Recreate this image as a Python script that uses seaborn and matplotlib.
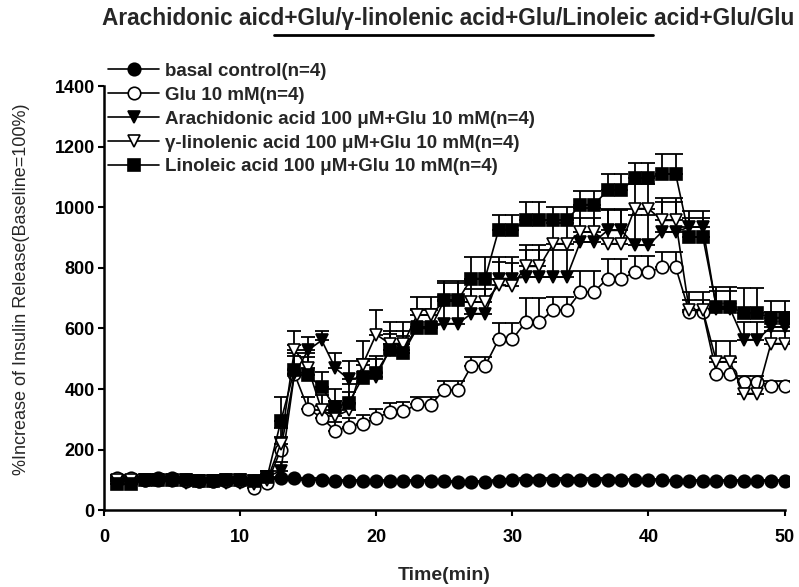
import numpy as np
import pandas as pd
import matplotlib
matplotlib.use("Agg")
import matplotlib.pyplot as plt
import seaborn as sns

sns.set_theme(style="ticks")
plt.rcParams['font.family'] = ['Liberation Sans', 'DejaVu Sans']

minutes = list(range(1, 51))

basal = [95, 95, 100, 105, 105, 100, 95, 95, 100, 100, 95, 100,
         105, 105, 100, 100, 95, 95, 95, 95, 95, 95, 95, 95, 95, 92, 92, 92,
         95, 98, 100, 100, 100, 100, 100, 100, 100, 98, 98, 98, 98, 96, 96,
         96, 96, 96, 96, 96, 96, 96]
glu = [105, 105, 100, 100, 100, 95, 95, 95, 95, 95, 72, 90,
       200, 450, 335, 305, 262, 275, 285, 304, 324, 326, 349, 348,
       396, 396, 476, 476, 564, 564, 622, 622, 660, 660, 721, 721,
       765, 765, 785, 785, 803, 803, 655, 655, 451, 451, 424, 424, 411, 411]
aa = [95, 95, 100, 100, 100, 100, 95, 95, 100, 100, 95, 110,
      130, 450, 528, 561, 469, 432, 440, 440, 530, 530, 605, 605,
      616, 616, 649, 649, 765, 765, 770, 770, 770, 770, 886, 886,
      924, 924, 875, 875, 919, 919, 935, 935, 665, 665, 563, 563, 605, 605]
gla = [100, 100, 100, 100, 95, 90, 95, 95, 90, 90, 85, 100,
       220, 530, 470, 330, 310, 330, 480, 580, 550, 550, 644, 644,
       690, 690, 687, 687, 743, 740, 805, 805, 880, 880, 919, 919,
       880, 880, 996, 996, 957, 957, 660, 660, 490, 490, 385, 385, 550, 550]
la = [85, 85, 100, 100, 100, 100, 95, 95, 100, 100, 95, 110,
      294, 464, 445, 405, 340, 355, 437, 453, 528, 520, 600, 600,
      693, 693, 765, 765, 926, 926, 957, 957, 957, 957, 1009, 1009,
      1056, 1056, 1096, 1096, 1111, 1111, 902, 902, 672, 672, 650, 650, 636, 636]

basal_err = [5] * 50
glu_err = [10] * 10 + [10, 15, 40, 60, 40, 40, 30, 30, 30, 30, 30, 30, 25, 25,
                       30, 30, 30, 30, 55, 55, 80, 80, 45, 45, 70, 70, 65, 65,
                       55, 55, 50, 50, 40, 40, 50, 50, 20, 20, 15, 15]
aa_err = [8] * 10 + [8, 10, 30, 70, 45, 30, 50, 60, 60, 60, 60, 60, 60, 60,
                     75, 75, 80, 80, 70, 70, 90, 90, 90, 90, 80, 80, 70, 70,
                     100, 100, 100, 100, 30, 30, 60, 60, 60, 60, 50, 50]
gla_err = [8] * 10 + [8, 10, 50, 60, 50, 50, 50, 60, 80, 80, 70, 70, 60, 60,
                      60, 60, 75, 75, 75, 75, 70, 70, 70, 70, 80, 80, 110, 110,
                      80, 80, 75, 75, 60, 60, 70, 70, 40, 40, 40, 40]
la_err = [10] * 10 + [10, 20, 80, 80, 60, 50, 60, 60, 55, 55, 55, 55, 60, 60,
                      65, 65, 70, 70, 50, 50, 60, 60, 45, 45, 45, 45, 55, 55,
                      50, 50, 64, 64, 85, 85, 65, 65, 85, 85, 55, 55]

labels = ["basal control(n=4)",
          "Glu 10 mM(n=4)",
          "Arachidonic acid 100 \u03bcM+Glu 10 mM(n=4)",
          "\u03b3-linolenic acid 100 \u03bcM+Glu 10 mM(n=4)",
          "Linoleic acid 100 \u03bcM+Glu 10 mM(n=4)"]
title = "Arachidonic aicd+Glu/\u03b3-linolenic acid+Glu/Linoleic acid+Glu/Glu"

series = [(basal, basal_err, 'o', 'black'),
          (glu, glu_err, 'o', 'white'),
          (aa, aa_err, 'v', 'black'),
          (gla, gla_err, 'v', 'white'),
          (la, la_err, 's', 'black')]

fig = plt.figure(figsize=(7.99, 5.87), dpi=100)
ax = fig.add_axes([0.130, 0.131, 0.857, 0.722])

x = np.array(minutes)
for (vals, err, mk, fc), lab in zip(series, labels):
    vals = np.array(vals, dtype=float)
    err = np.array(err, dtype=float)
    ax.errorbar(x, vals, yerr=[np.zeros_like(err), err], fmt='none',
                ecolor='black', elinewidth=1.3, capsize=5, capthick=1.3, zorder=1)

for (vals, err, mk, fc), lab in zip(series, labels):
    df = pd.DataFrame({"t": minutes, "v": vals})
    sns.lineplot(data=df, x="t", y="v", ax=ax, color='black', linewidth=1.2,
                 marker=mk, markersize=9, markerfacecolor=fc,
                 markeredgecolor='black', markeredgewidth=1.2,
                 label=lab, zorder=3)

ax.set_xlim(0, 50.3)
ax.set_ylim(0, 1400)
ax.set_xticks([0, 10, 20, 30, 40, 50])
ax.set_yticks(range(0, 1401, 200))
ax.spines['right'].set_visible(False)
ax.spines['top'].set_visible(False)
ax.spines['left'].set_bounds(0, 1400)
ax.spines['bottom'].set_bounds(0, 50)
for s in ['left', 'bottom']:
    ax.spines[s].set_linewidth(1.8)
    ax.spines[s].set_color('black')
ax.tick_params(direction='out', length=4.5, width=1.5, colors='black',
               labelsize=13)
ax.tick_params(axis='x', pad=9)
ax.tick_params(axis='y', pad=2)
for t in ax.get_xticklabels() + ax.get_yticklabels():
    t.set_fontweight('bold')

ax.set_xlabel("Time(min)", fontsize=14, fontweight='bold')
ax.set_ylabel("%Increase of Insulin Release(Baseline=100%)", fontsize=13)
ax.xaxis.label.set_va('center')
ax.yaxis.label.set_va('center')
ax.xaxis.set_label_coords(0.497, -0.154)
ax.yaxis.set_label_coords(-0.12, 0.52)

leg = ax.legend(loc='upper left', bbox_to_anchor=(0.135, 0.893),
                bbox_transform=fig.transFigure, frameon=False,
                prop={'weight': 'bold', 'size': 13.5}, handlelength=2.75,
                handletextpad=0.3, labelspacing=0.36, borderaxespad=0,
                borderpad=0)

fig.text(0.561, 0.968, title, ha='center', va='center', fontsize=16.3,
         fontweight='bold')
fig.add_artist(plt.Line2D([0.343, 0.817], [0.940, 0.940], color='black',
                          linewidth=2, transform=fig.transFigure))

fig.savefig("out.png", dpi=100)
